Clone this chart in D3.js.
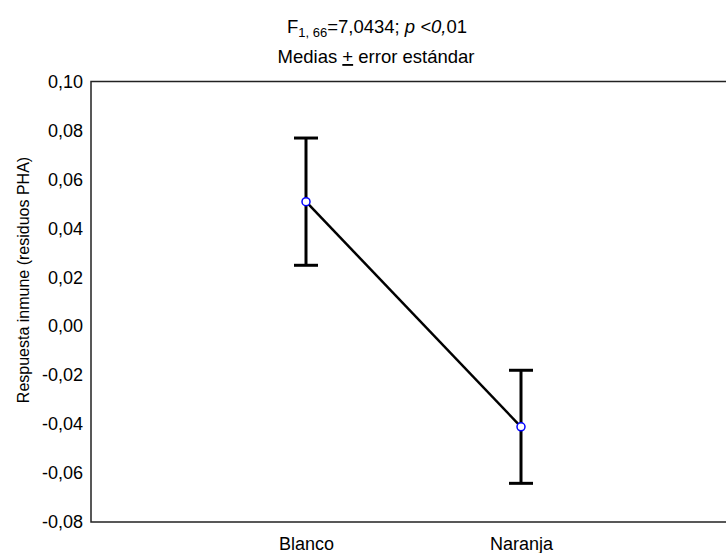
<!DOCTYPE html>
<html>
  <head>
    <meta charset="UTF-8">
    <title>Respuesta inmune</title>
    <script src="https://d3js.org/d3.v7.min.js"></script>
    <style>
      body { margin: 0; background: #fff; }
      text { font-family: Arial, "Liberation Sans", sans-serif; fill: #000; }
    </style>
  </head>
  <body>
    <script>
        var w = 726;
        var h = 553;

        // data
        var categories = ["Blanco", "Naranja"];
        var means = [0.0509, -0.0411];
        var stdErr = [0.0260, 0.0231];
        var yTicks = [-0.08, -0.06, -0.04, -0.02, 0.00, 0.02, 0.04, 0.06, 0.08, 0.10];

        var plotLeft = 91, plotTop = 81.5, plotBottom = 522, plotRight = 736;

        var svg = d3.select("body").append("svg")
            .attr("width", w)
            .attr("height", h);

        var x = d3.scalePoint()
            .domain(categories)
            .range([plotLeft, plotRight])
            .padding(1);

        var y = d3.scaleLinear()
            .domain([-0.08, 0.10])
            .range([plotBottom, plotTop]);

        var fmt = function(d){ return d3.format(".2f")(d).replace(".", ",").replace("−", "-"); };

        // frame (open on the right, goes past the edge)
        svg.append("path")
            .attr("d", "M" + plotRight + "," + plotTop + "H" + plotLeft + "V" + plotBottom + "H" + plotRight)
            .attr("fill", "none")
            .attr("stroke", "#222")
            .attr("stroke-width", 1.5);

        // y tick labels, no tick marks
        var yAxis = d3.axisLeft(y)
            .tickValues(yTicks)
            .tickSize(0)
            .tickPadding(8)
            .tickFormat(fmt);

        var gy = svg.append("g")
            .attr("transform", "translate(" + plotLeft + ",0)")
            .call(yAxis);
        gy.select(".domain").remove();
        gy.selectAll("text")
            .attr("font-size", "18px")
            .attr("font-family", "Arial, 'Liberation Sans', sans-serif")
            .attr("fill", "#000");

        // x labels
        var xAxis = d3.axisBottom(x).tickSize(0).tickPadding(15);
        var gx = svg.append("g")
            .attr("transform", "translate(0," + plotBottom + ")")
            .call(xAxis);
        gx.select(".domain").remove();
        gx.selectAll("text")
            .attr("font-size", "18px")
            .attr("font-family", "Arial, 'Liberation Sans', sans-serif")
            .attr("fill", "#000");

        // y axis title
        svg.append("text")
            .attr("transform", "translate(29,280) rotate(-90)")
            .attr("text-anchor", "middle")
            .attr("font-size", "16px")
            .text("Respuesta inmune (residuos PHA)");

        // titles
        var t1 = svg.append("text")
            .attr("x", 377)
            .attr("y", 33)
            .attr("text-anchor", "middle")
            .attr("font-size", "18.5px");
        t1.append("tspan").text("F");
        t1.append("tspan").attr("font-size", "13px").attr("dy", 4).text("1, 66");
        t1.append("tspan").attr("dy", -4).text("=7,0434; ");
        t1.append("tspan").attr("font-style", "italic").text("p <0,");
        t1.append("tspan").text("01");

        var t2 = svg.append("text")
            .attr("x", 376)
            .attr("y", 63)
            .attr("text-anchor", "middle")
            .attr("font-size", "18.5px");
        t2.append("tspan").text("Medias ");
        t2.append("tspan").attr("text-decoration", "underline").text("+");
        t2.append("tspan").text(" error estándar");

        // error bars
        var bars = svg.selectAll("g.err")
            .data(categories)
            .enter()
            .append("g")
            .attr("class", "err")
            .attr("stroke", "#000")
            .attr("stroke-width", 3);

        bars.append("line")
            .attr("x1", function(d){ return x(d); })
            .attr("x2", function(d){ return x(d); })
            .attr("y1", function(d, i){ return y(means[i] + stdErr[i]); })
            .attr("y2", function(d, i){ return y(means[i] - stdErr[i]); });

        bars.append("line")
            .attr("x1", function(d){ return x(d) - 12; })
            .attr("x2", function(d){ return x(d) + 12; })
            .attr("y1", function(d, i){ return y(means[i] + stdErr[i]); })
            .attr("y2", function(d, i){ return y(means[i] + stdErr[i]); });

        bars.append("line")
            .attr("x1", function(d){ return x(d) - 12; })
            .attr("x2", function(d){ return x(d) + 12; })
            .attr("y1", function(d, i){ return y(means[i] - stdErr[i]); })
            .attr("y2", function(d, i){ return y(means[i] - stdErr[i]); });

        // mean line
        var line = d3.line()
            .x(function(d, i){ return x(categories[i]); })
            .y(function(d){ return y(d); });

        svg.append("path")
            .datum(means)
            .attr("d", line)
            .attr("fill", "none")
            .attr("stroke", "#000")
            .attr("stroke-width", 2.5);

        svg.selectAll("circle")
            .data(means)
            .enter()
            .append("circle")
            .attr("cx", function(d, i){ return x(categories[i]); })
            .attr("cy", function(d){ return y(d); })
            .attr("r", 4)
            .attr("fill", "#fff")
            .attr("stroke", "#0000ff")
            .attr("stroke-width", 1.5);
    </script>
  </body>
</html>
